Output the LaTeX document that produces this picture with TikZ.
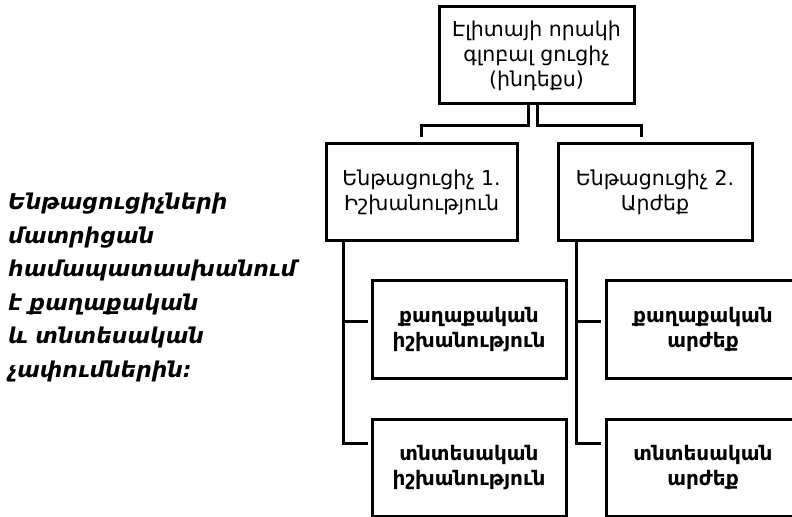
\documentclass[tikz,border=0pt]{standalone}
\usepackage{fontspec}
\setmainfont{DejaVu Sans}
\usetikzlibrary{calc}
\begin{document}
\begin{tikzpicture}[x=1bp,y=-1bp,
  box/.style={draw,line width=3bp,minimum width=#1,minimum height=97bp,inner sep=0pt,align=center,anchor=center},
  box/.default=194bp,
  plain/.style={font=\fontsize{20.5bp}{25bp}\selectfont},
  bold/.style={font=\fontsize{20bp}{25bp}\selectfont\bfseries},
  conn/.style={line width=3bp},
  note/.style={font=\fontsize{21.8bp}{33.5bp}\selectfont\bfseries\itshape,align=left,anchor=north west,inner sep=0pt}]
\useasboundingbox (0,0) rectangle (792,517);
\begin{scope}
\clip (0,0) rectangle (792,517);
\node[box=195bp,plain] (top) at (536.5,55.5) {Էլիտայի որակի\\գլոբալ ցուցիչ\\(ինդեքս)};
\node[box=191bp,plain] (L1) at (421.5,192.5) {Ենթացուցիչ 1.\\Իշխանություն};
\node[box=194bp,plain] (R1) at (655,192.5) {Ենթացուցիչ 2.\\Արժեք};
\node[box,bold] (L2a) at (469,329.5) {քաղաքական\\իշխանություն};
\node[box,bold] (L2b) at (469,467.5) {տնտեսական\\իշխանություն};
\node[box,bold] (R2a) at (703,329.5) {քաղաքական\\արժեք};
\node[box,bold] (R2b) at (703,467.5) {տնտեսական\\արժեք};
\coordinate (tl) at ($(top.south)+(-8,0)$);
\coordinate (tr) at ($(top.south)+(1,0)$);
\coordinate (l1t) at ($(L1.north)+(0,-5)$);
\coordinate (r1t) at ($(R1.north)+(-14,-5)$);
\draw[conn] (tl) -- ++(0,20) -| (l1t);
\draw[conn] (tr) -- ++(0,20) -| (r1t);
\coordinate (sL) at ($(L1.south)+(-78.5,0)$);
\coordinate (sR) at ($(R1.south)+(-79,0)$);
\coordinate (aL) at ($(L2a.west)+(-3,-8.5)$);
\coordinate (bL) at ($(L2b.west)+(-3,-24.5)$);
\coordinate (aR) at ($(R2a.west)+(-4,-8.5)$);
\coordinate (bR) at ($(R2b.west)+(-4,-24.5)$);
\draw[conn] (sL) |- (bL);
\draw[conn] (sL |- aL) -- (aL);
\draw[conn] (sR) |- (bR);
\draw[conn] (sR |- aR) -- (aR);
\end{scope}
\node[note] (txt) at (8,193) {Ենթացուցիչների\\մատրիցան\\համապատասխանում\\է քաղաքական\\և տնտեսական\\չափումներին։};
\end{tikzpicture}
\end{document}
